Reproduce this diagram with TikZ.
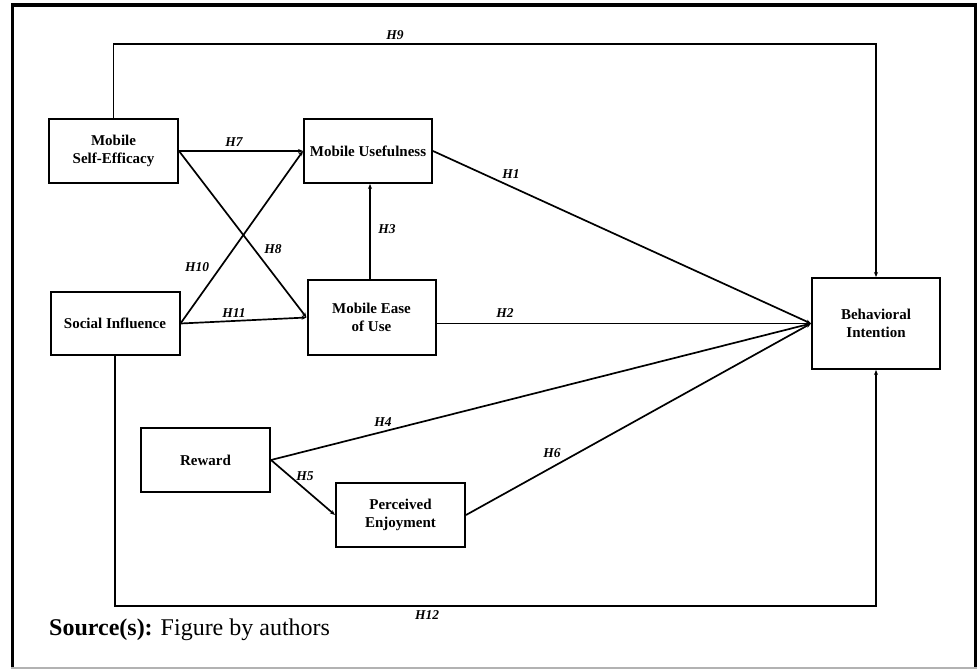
\documentclass[tikz,border=0pt]{standalone}
\usepackage{fontspec}
\setmainfont{Liberation Serif}
\usetikzlibrary{arrows.meta}
\tikzset{
  box/.style={draw, line width=2pt, inner sep=0pt, align=center,
    font=\fontsize{15}{18.5}\selectfont\bfseries},
  hyp/.style={font=\fontsize{13.5}{15}\selectfont\bfseries\itshape},
  conn/.style={line width=1.7pt, -{Stealth[length=5pt,width=4pt]}}
}
\begin{document}
\begin{tikzpicture}[x=1pt,y=-1pt]
\useasboundingbox (0,0) rectangle (978,670);
\fill[white] (0,0) rectangle (978,670);
% frame
\draw[line width=3.5pt] (12.5,668) -- (12.5,5) -- (975.5,5) -- (975.5,668);
\draw[line width=2pt, gray!60] (11,668) -- (977,668);

% nodes
\node[box, minimum width=129pt, minimum height=64pt] (mse) at (113.5,151) {Mobile\\Self-Efficacy};
\node[box, minimum width=128pt, minimum height=64pt] (mu) at (368,151) {Mobile Usefulness};
\node[box, minimum width=129pt, minimum height=63pt] (si) at (115,323.5) {Social Influence};
\node[box, minimum width=128pt, minimum height=75pt] (meu) at (371.5,317.5) {Mobile Ease\\of Use};
\node[box, minimum width=128pt, minimum height=91pt] (bi) at (876,323.5) {Behavioral\\Intention};
\node[box, minimum width=129pt, minimum height=64pt] (rew) at (205.5,460) {Reward};
\node[box, minimum width=129pt, minimum height=64pt] (pe) at (400.5,515) {Perceived\\Enjoyment};

% connectors
\coordinate (top) at (0,44);
\coordinate (bot) at (0,606);
\draw[conn] (mse.north) -- (mse.north |- top) -| (bi.north);
\draw[conn] (si.south) -- (si.south |- bot) -| (bi.south);
\draw[conn] (mse.east) -- (mu.west);
\draw[conn] (mse.east) -- (meu.west);
\draw[conn] (si.east) -- (mu.west);
\draw[conn] (si.east) -- (meu.west);
\draw[conn] (meu.north -| 370,0) -- (mu.south -| 370,0);
\draw[conn] (mu.east) -- (bi.west);
\draw[conn] (meu.east |- bi.west) -- (bi.west);
\draw[conn] (rew.east) -- (bi.west);
\draw[conn] (rew.east) -- (pe.west);
\draw[conn] (pe.east) -- (bi.west);

% labels
\node[hyp] (l9) at (395,35) {H9};
\node[hyp] (l7) at (234,142) {H7};
\node[hyp] (l8) at (273,249) {H8};
\node[hyp] (l10) at (197,267) {H10};
\node[hyp] (l11) at (234,313) {H11};
\node[hyp] (l3) at (387,229) {H3};
\node[hyp] (l1) at (511,174) {H1};
\node[hyp] (l2) at (505,313) {H2};
\node[hyp] (l4) at (383,422) {H4};
\node[hyp] (l5) at (305,476) {H5};
\node[hyp] (l6) at (552,453) {H6};
\node[hyp] (l12) at (427,615) {H12};

% source
\node[anchor=base west, inner sep=0pt, font=\fontsize{24}{28}\selectfont] (src) at (49,635) {\textbf{Source(s):} Figure by authors};
\end{tikzpicture}
\end{document}
